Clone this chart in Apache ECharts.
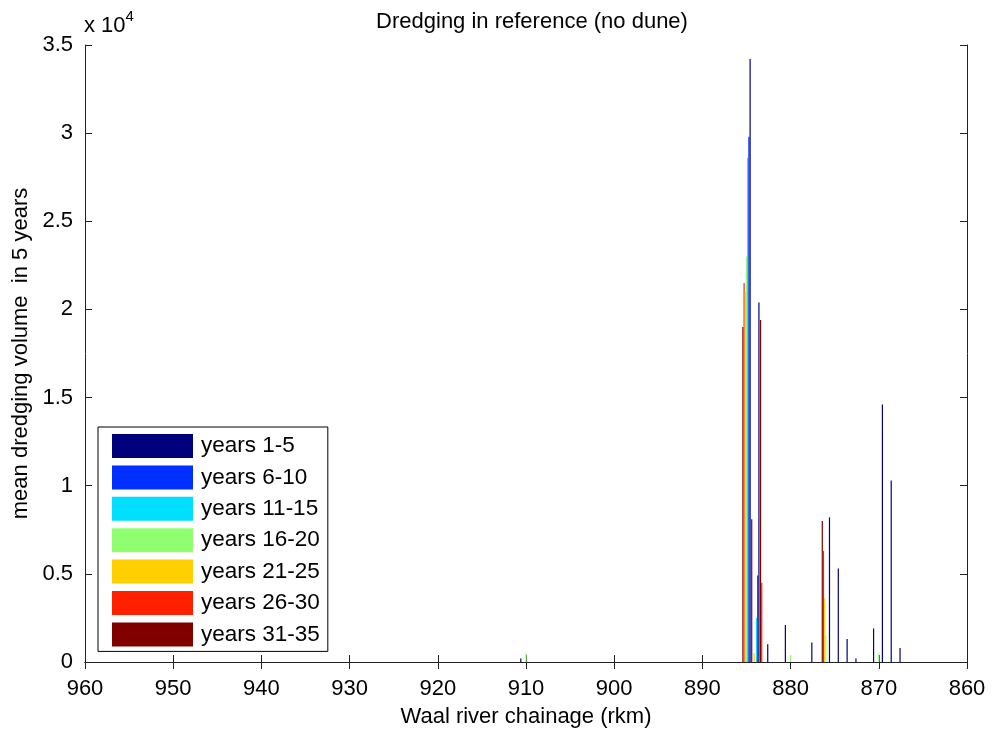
<!DOCTYPE html>
<html>
<head>
<meta charset="utf-8">
<script src="https://cdn.jsdelivr.net/npm/echarts@6/dist/echarts.min.js"></script>
<style>
html,body{margin:0;padding:0;background:#fff;}
#chart{width:994px;height:730px;}
</style>
</head>
<body>
<div id="chart"></div>
<script>
// Chainage positions (rkm) of the bar groups
const chainage     = [911, 910, 885, 884, 883, 881, 880, 878, 876, 875, 874, 873, 871, 870, 869, 868];
// mean dredging volume in 5 years per period
const years1to5    = [200,   0, 34200, 20400, 1000, 2100,   0, 1100, 8200, 5300, 1300, 200, 1900, 14600, 10300, 800];
const years6to10   = [  0,   0, 29800,  4900,    0,    0,   0,    0,    0,    0,    0,   0,    0,     0,     0,   0];
const years11to15  = [  0,   0, 28600,  2500,    0,    0,   0,    0,    0,    0,    0,   0,    0,     0,     0,   0];
const years16to20  = [  0, 500, 23000,     0,    0,    0, 400,    0, 1500,    0,    0,   0,    0,   500,     0,   0];
const years21to25  = [  0,   0, 21000,   500,    0,    0,   0,    0, 3600,    0,    0,   0,    0,     0,     0,   0];
const years26to30  = [  0,   0, 21500,     0, 4500,    0,   0,    0, 6300,    0,    0,   0,    0,     0,     0,   0];
const years31to35  = [  0,   0, 19000,  8100, 19400,   0,   0,    0, 8000,    0,    0,   0,    0,     0,     0,   0];

const seriesNames  = ['years 1-5', 'years 6-10', 'years 11-15', 'years 16-20', 'years 21-25', 'years 26-30', 'years 31-35'];
const seriesValues = [years1to5, years6to10, years11to15, years16to20, years21to25, years26to30, years31to35];
const seriesColors = ['#00007f', '#0030ff', '#00dfff', '#8fff70', '#ffcf00', '#ff2000', '#800000'];

const xTicks = {min: 860, max: 960, interval: 10};
const yTicks = {min: 0, max: 35000, interval: 5000};

const FONT = 'Liberation Sans, Arial, sans-serif';
const FS = 22;
const chart = echarts.init(document.getElementById('chart'), null, {renderer: 'canvas'});

// series drawn last-to-first so that "years 1-5" sits at the right (reversed axis)
const series = [];
for (let i = seriesNames.length - 1; i >= 0; i--) {
  const pts = [];
  chainage.forEach((c, k) => { if (seriesValues[i][k] > 0) pts.push([c, seriesValues[i][k]]); });
  series.push({
    name: seriesNames[i],
    type: 'bar',
    data: pts,
    barWidth: 1.2,
    barGap: '0%',
    itemStyle: {color: seriesColors[i]},
    emphasis: {disabled: true},
    animation: false,
    xAxisIndex: 0, yAxisIndex: 0
  });
}

const axisLine = {show: true, lineStyle: {color: '#222', width: 1}};
const tick = {show: true, inside: true, length: 7, lineStyle: {color: '#222'}};

chart.setOption({
  animation: false,
  backgroundColor: '#fff',
  title: {
    text: 'Dredging in reference (no dune)',
    left: 527, top: 6, textAlign: 'center',
    textStyle: {fontFamily: FONT, fontSize: FS, fontWeight: 'normal', color: '#000'}
  },
  grid: {left: 85, right: 27, top: 45, bottom: 68, containLabel: false, outerBoundsMode: 'none'},
  legend: {
    data: seriesNames,
    orient: 'vertical',
    left: 98, top: 427,
    icon: 'rect',
    itemWidth: 81, itemHeight: 24, itemGap: 7.4,
    padding: [7, 8, 5, 14],
    backgroundColor: '#fff',
    borderColor: '#000', borderWidth: 1,
    textStyle: {fontFamily: FONT, fontSize: 22.5, color: '#000', lineHeight: 24, padding: [0, 0, 0, 3]},
    selectedMode: false
  },
  xAxis: [{
    type: 'value', inverse: true,
    min: xTicks.min, max: xTicks.max, interval: xTicks.interval,
    position: 'bottom',
    name: 'Waal river chainage (rkm)', nameLocation: 'middle', nameGap: 44,
    nameTextStyle: {fontFamily: FONT, fontSize: FS, color: '#000'},
    axisLine: axisLine, axisTick: tick,
    axisLabel: {fontFamily: FONT, fontSize: FS, color: '#000', margin: 16},
    splitLine: {show: false}
  }, {
    type: 'value', inverse: true,
    min: xTicks.min, max: xTicks.max, interval: xTicks.interval,
    position: 'top',
    axisLine: axisLine, axisTick: tick,
    axisLabel: {show: false}, splitLine: {show: false}
  }],
  yAxis: [{
    type: 'value',
    min: yTicks.min, max: yTicks.max, interval: yTicks.interval,
    position: 'left',
    name: 'mean dredging volume  in 5 years', nameLocation: 'middle', nameGap: 52,
    nameTextStyle: {fontFamily: FONT, fontSize: FS, color: '#000'},
    axisLine: axisLine, axisTick: tick,
    axisLabel: {fontFamily: FONT, fontSize: FS, color: '#000', margin: 12,
      formatter: v => String(v / 10000)},
    splitLine: {show: false}
  }, {
    type: 'value',
    min: yTicks.min, max: yTicks.max, interval: yTicks.interval,
    position: 'right',
    axisLine: axisLine, axisTick: tick,
    axisLabel: {show: false}, splitLine: {show: false}
  }],
  graphic: [{
    type: 'text', left: 84, top: 9,
    style: {
      text: '{a|x 10}{b|4}',
      rich: {
        a: {fontFamily: FONT, fontSize: FS, fill: '#000', verticalAlign: 'bottom', lineHeight: 28},
        b: {fontFamily: FONT, fontSize: 15, fill: '#000', verticalAlign: 'top', lineHeight: 28}
      }
    }
  }],
  series: series
});
</script>
</body>
</html>
